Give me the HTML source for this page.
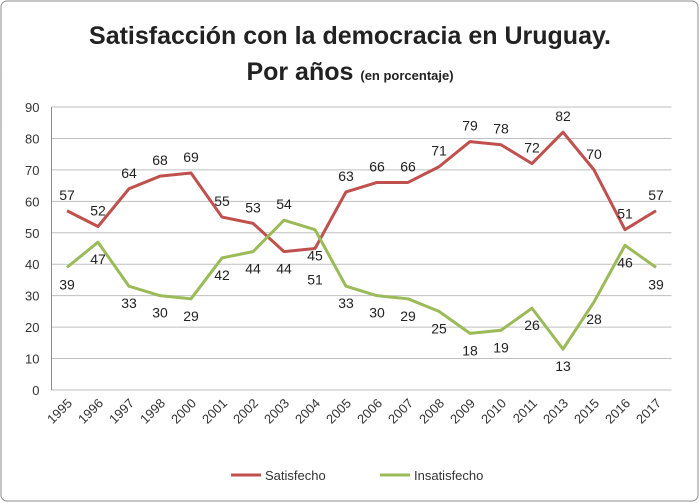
<!DOCTYPE html>
<html><head><meta charset="utf-8"><style>
html,body{margin:0;padding:0;background:#fff;}
svg{display:block;font-family:"Liberation Sans",sans-serif;}
</style></head><body>
<svg id="c" width="700" height="503">
<rect x="1" y="1" width="697" height="500" rx="6" fill="#fff" stroke="#8c8c8c"/>
<text x="350" y="44" text-anchor="middle" font-size="25" font-weight="bold" fill="#222">Satisfacción con la democracia en Uruguay.</text>
<text x="350" y="80" text-anchor="middle" font-weight="bold" fill="#222"><tspan font-size="25">Por años </tspan><tspan font-size="13">(en porcentaje)</tspan></text>
<g id="grid"></g><g id="axes"></g><g id="series"></g>
<g>
<line x1="231" y1="475" x2="261" y2="475" stroke="#c0504d" stroke-width="3"/>
<text x="265" y="480" font-size="13" fill="#333">Satisfecho</text>
<line x1="380" y1="475" x2="410" y2="475" stroke="#9bbb59" stroke-width="3"/>
<text x="414" y="480" font-size="13" fill="#333">Insatisfecho</text>
</g>
</svg>
<script>
const categories=["1995","1996","1997","1998","2000","2001","2002","2003","2004","2005","2006","2007","2008","2009","2010","2011","2013","2015","2016","2017"];
const satisfecho=[57,52,64,68,69,55,53,44,45,63,66,66,71,79,78,72,82,70,51,57];
const insatisfecho=[39,47,33,30,29,42,44,54,51,33,30,29,25,18,19,26,13,28,46,39];
const yTicks=[0,10,20,30,40,50,60,70,80,90];
const NS="http://www.w3.org/2000/svg";
const L=51.5,R=671.5,T=107,B=390;
const step=(R-L)/categories.length;
const x=i=>L+step*(i+0.5);
const y=v=>B-(v/90)*(B-T);
function mk(tag,attrs,parent,txt){const e=document.createElementNS(NS,tag);for(const k in attrs)e.setAttribute(k,attrs[k]);if(txt!==undefined)e.textContent=txt;document.getElementById(parent).appendChild(e);return e;}
yTicks.forEach(t=>{
 const g=mk("line",{x1:L,x2:R,y1:y(t),y2:y(t),stroke:"#bfbfbf","stroke-width":1},"grid");
 
 
 const tl=mk("text",{x:L-12,y:y(t)+5,"text-anchor":"end","font-size":13,fill:"#333"},"axes",t);
 
 
});
const ax=mk("line",{x1:L,x2:L,y1:T,y2:B,stroke:"#8c8c8c"},"axes");


categories.forEach((c,i)=>{
 const tx=x(i)+6,ty=B+14;
 const t=mk("text",{x:tx,y:ty,"text-anchor":"end","font-size":13,fill:"#333",transform:`rotate(-45 ${tx} ${ty})`},"axes",c);
 
 
});
function series(vals,other,color,name,isRed){
 const p=mk("polyline",{points:vals.map((v,i)=>x(i)+","+y(v)).join(" "),fill:"none",stroke:color,"stroke-width":3,"stroke-linejoin":"round"},"series");
 
 
 vals.forEach((v,i)=>{
  const higher=v>=other[i];
  let ly=higher?y(v)-11:y(v)+22;
  if(isRed && i>0 && Math.abs(v-other[i])<8 && !higher) ly=y(v)+12;
  if(!isRed && Math.abs(v-other[i])<8 && higher) ly=y(other[i])+36;
  const t=mk("text",{x:x(i),y:ly,"text-anchor":"middle","font-size":14,fill:"#222"},"series",v);
  
  
 });
}
series(satisfecho,insatisfecho,"#c0504d","satisfecho",true);
series(insatisfecho,satisfecho,"#9bbb59","insatisfecho",false);
</script>
</body></html>
